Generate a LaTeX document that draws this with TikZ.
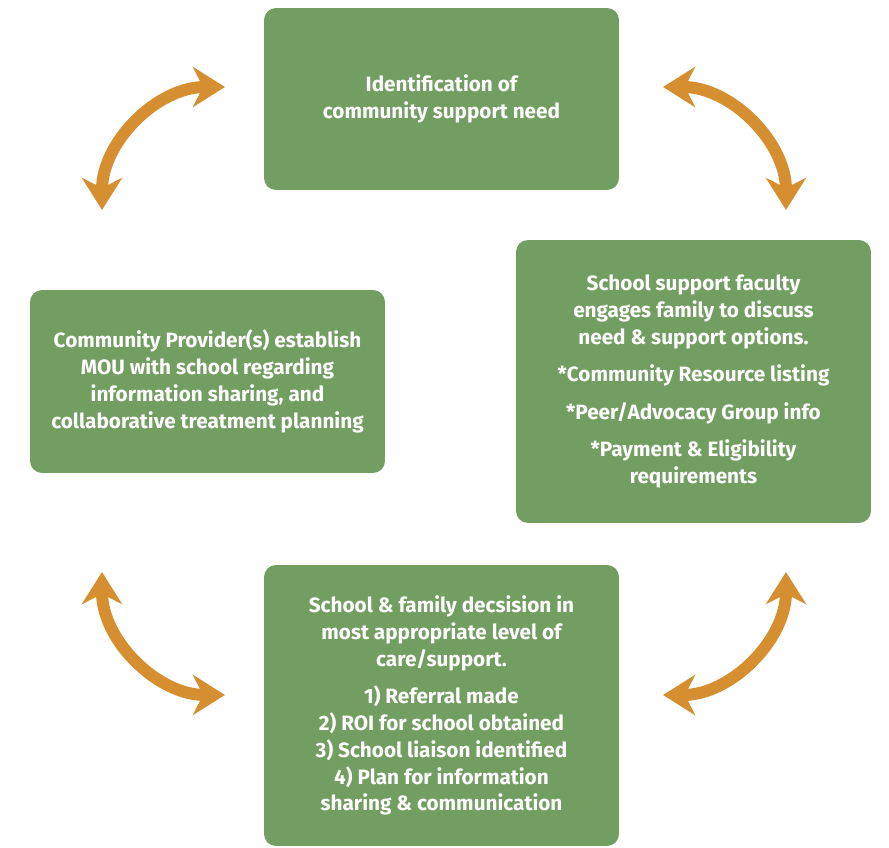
\documentclass[tikz,border=0pt]{standalone}
\usepackage{fontspec}
\setmainfont{Fira Sans}
\usetikzlibrary{arrows.meta}
\definecolor{boxgreen}{HTML}{739E62}
\definecolor{arroworange}{HTML}{D68F30}
\tikzset{
	greenbox/.style={fill=boxgreen, rounded corners=0.24cm, inner sep=0pt,
		minimum width=7.1cm, text=white, align=center,
		font=\bfseries\fontsize{11.8}{15.3}\selectfont},
	cyclearrow/.style={draw=arroworange, line width=0.24cm,
		{Stealth[length=0.64cm, width=0.8cm, inset=0.2cm]}-{Stealth[length=0.64cm, width=0.8cm, inset=0.2cm]}}
}

\begin{document}
\begin{tikzpicture}[x=0.02cm, y=0.02cm]
			%%%%% START %%%%%
			\useasboundingbox (0, 0) rectangle (889, 848);
			
			\node[greenbox, minimum height=3.64cm] (need) at (441.5, 749)
				{Identification of\\community support need};
			
			\node[greenbox, minimum height=5.66cm] (faculty) at (693.5, 466.5)
				{School support faculty\\engages family to discuss\\need \& support options.\\[6pt]
				 *Community Resource listing\\[6pt]
				 *Peer/Advocacy Group info\\[6pt]
				 *Payment \& Eligibility\\requirements};
			
			\node[greenbox, minimum height=3.66cm] (provider) at (207.5, 466.5)
				{Community Provider(s) establish\\MOU with school regarding\\information sharing, and\\collaborative treatment planning};
			
			\node[greenbox, minimum height=5.62cm] (decision) at (441.5, 142.5)
				{School \& family decsision in\\most appropriate level of\\care/support.\\[6pt]
				 1) Referral made\\2) ROI for school obtained\\3) School liaison identified\\4) Plan for information\\sharing \& communication};
			
			\coordinate (tlstart) at (102, 638);
			\coordinate (trstart) at (663, 761);
			\coordinate (blstart) at (102, 276);
			\coordinate (brstart) at (663, 153);
			
			\draw[cyclearrow] (tlstart) arc (180:90:2.46cm);
			\draw[cyclearrow] (trstart) arc (90:0:2.46cm);
			\draw[cyclearrow] (blstart) arc (180:270:2.46cm);
			\draw[cyclearrow] (brstart) arc (270:360:2.46cm);
			%%%%% END %%%%%
\end{tikzpicture}
\end{document}
